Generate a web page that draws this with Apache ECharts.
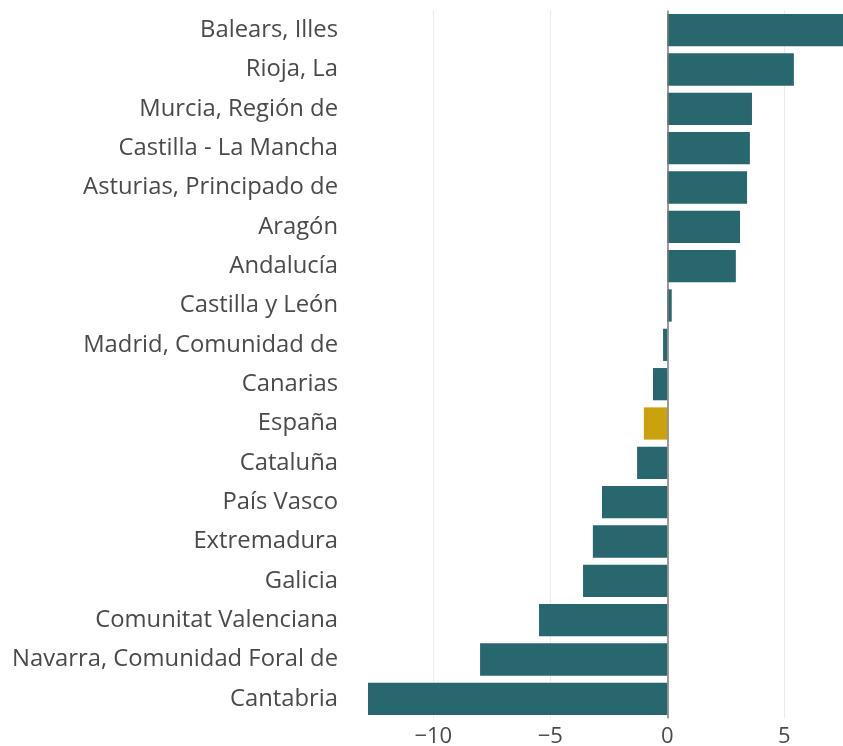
<!DOCTYPE html>
<html>
<head>
<meta charset="utf-8">
<script src="https://cdn.jsdelivr.net/npm/echarts@6/dist/echarts.min.js"></script>
<style>
  html, body { margin: 0; padding: 0; background: #fff; }
  #chart { width: 843px; height: 746px; }
</style>
</head>
<body>
<div id="chart"></div>
<script>
// regiones, de arriba abajo
const regiones = [
  'Balears, Illes', 'Rioja, La', 'Murcia, Región de', 'Castilla - La Mancha',
  'Asturias, Principado de', 'Aragón', 'Andalucía', 'Castilla y León',
  'Madrid, Comunidad de', 'Canarias', 'España', 'Cataluña', 'País Vasco',
  'Extremadura', 'Galicia', 'Comunitat Valenciana',
  'Navarra, Comunidad Foral de', 'Cantabria'
]
const valores = [
  7.51, 5.41, 3.62, 3.53, 3.41, 3.11, 2.93, 0.19,
  -0.18, -0.61, -1.0, -1.29, -2.79, -3.18, -3.6, -5.48,
  -8.0, -12.79
]
const destacado = 'España'
const marcas = [-10, -5, 5] // líneas de rejilla
const colorBarra = '#27676d'
const colorDestacado = '#c9a20e'

const chart = echarts.init(document.getElementById('chart'))

const option = {
  animation: false,
  textStyle: { fontFamily: 'Open Sans' },
  grid: { left: 368, right: 0, top: 10.5, bottom: 27.5, outerBoundsMode: 'none' },
  xAxis: {
    type: 'value',
    min: 'dataMin',
    max: 'dataMax',
    splitLine: { show: false },
    axisLine: { show: false },
    axisTick: { show: false },
    axisLabel: {
      fontSize: 22,
      color: '#4a4a4a',
      margin: 7,
      showMinLabel: false,
      showMaxLabel: false,
      formatter: (v) => (v % 5 === 0 ? String(v).replace('-', '\u2212') : '')
    }
  },
  yAxis: {
    type: 'category',
    inverse: true,
    data: regiones,
    axisLine: { show: false },
    axisTick: { show: false },
    axisLabel: { fontSize: 23.8, color: '#4a4a4a', margin: 30, padding: [3, 0, 0, 0] }
  },
  series: [
    {
      // rejilla detrás de las barras
      type: 'line',
      data: [],
      z: 1,
      silent: true,
      markLine: {
        z: 0,
        silent: true,
        symbol: 'none',
        label: { show: false },
        lineStyle: { color: '#ececec', width: 1, type: 'solid' },
        data: marcas.map((m) => ({ xAxis: m }))
      }
    },
    {
      type: 'bar',
      z: 2,
      barCategoryGap: '18%',
      data: valores.map((v, i) => ({
        value: v,
        itemStyle: { color: regiones[i] === destacado ? colorDestacado : colorBarra }
      })),
      markLine: {
        z: 5,
        silent: true,
        symbol: 'none',
        label: { show: false },
        lineStyle: { color: '#7a7a7a', width: 1.5, type: 'solid' },
        data: [{ xAxis: 0 }]
      }
    }
  ]
}

chart.setOption(option)
</script>
</body>
</html>
